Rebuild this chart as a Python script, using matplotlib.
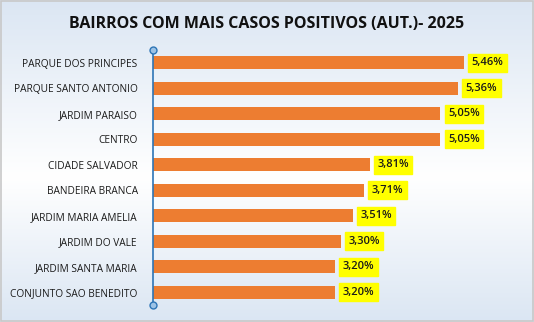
import matplotlib.pyplot as plt
import numpy as np
from matplotlib.colors import LinearSegmentedColormap
from matplotlib.patches import Rectangle

bairros = [
    "PARQUE DOS PRINCIPES",
    "PARQUE SANTO ANTONIO",
    "JARDIM PARAISO",
    "CENTRO",
    "CIDADE SALVADOR",
    "BANDEIRA BRANCA",
    "JARDIM MARIA AMELIA",
    "JARDIM DO VALE",
    "JARDIM SANTA MARIA",
    "CONJUNTO SAO BENEDITO",
]
percentuais = [5.46, 5.36, 5.05, 5.05, 3.81, 3.71, 3.51, 3.30, 3.20, 3.20]

plt.rcParams['font.family'] = ['Open Sans', 'DejaVu Sans']

fig = plt.figure(figsize=(5.34, 3.22), dpi=100)

# fundo em degradê (azul claro -> branco -> azul claro)
bg = fig.add_axes([0, 0, 1, 1], zorder=-10)
cmap = LinearSegmentedColormap.from_list(
    'fundo', [(0.0, '#dbe6f3'), (0.55, '#ffffff'), (1.0, '#dbe6f3')])
grad = np.linspace(0, 1, 256).reshape(-1, 1)
bg.imshow(grad, aspect='auto', cmap=cmap, extent=[0, 1, 0, 1], origin='upper')
bg.add_patch(Rectangle((0.002, 0.003), 0.996, 0.994, transform=bg.transAxes,
                       fill=False, edgecolor='#c8c8c8', linewidth=1.2))
bg.set_axis_off()

ax = fig.add_axes([153 / 534, 1 - 305 / 322, (523 - 153) / 534, 255 / 322])
ax.patch.set_alpha(0)
y = np.arange(len(bairros))
ax.barh(y, percentuais, height=0.52, color='#ed7d31')
ax.set_ylim(len(bairros) - 0.5, -0.5)
ax.set_xlim(0, 6.5)

for yi, v in zip(y, percentuais):
    ax.annotate(f"{v:.2f}%".replace('.', ','), (v, yi), xytext=(5.5, 0),
                textcoords='offset points', va='center', ha='left',
                fontsize=8, fontweight='semibold', color='#1a1a1a',
                bbox=dict(boxstyle='square,pad=0.3', facecolor='#ffff00',
                          edgecolor='#ffff00'))

ax.set_yticks(y)
ax.set_yticklabels(bairros, fontsize=7.3, color='#1a1a1a')
ax.tick_params(axis='y', length=0, pad=11)
ax.set_xticks([])
for s in ['top', 'right', 'bottom']:
    ax.spines[s].set_visible(False)
ax.spines['left'].set_color('#2e75b6')
ax.spines['left'].set_linewidth(1.2)
# alças nas pontas do eixo
ax.plot([0, 0], [-0.5, len(bairros) - 0.5], linestyle='none', marker='o',
        markersize=5, markerfacecolor='#9dc3e6', markeredgecolor='#2e75b6',
        markeredgewidth=1, clip_on=False, zorder=5)

fig.text(0.5, 1 - 24 / 322, "BAIRROS COM MAIS CASOS POSITIVOS (AUT.)- 2025",
         ha='center', va='center', fontsize=11.5, fontweight='bold', color='#111111')

fig.savefig('out.png', dpi=100)
